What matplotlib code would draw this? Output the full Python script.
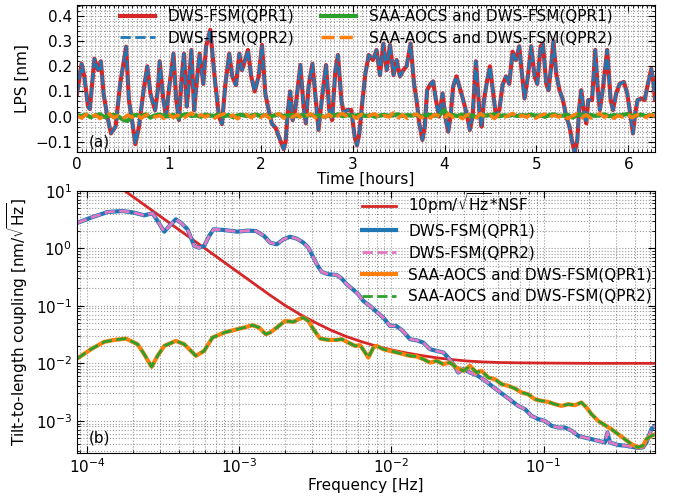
import numpy as np
import matplotlib.pyplot as plt
from matplotlib.ticker import AutoMinorLocator, LogLocator

# ---- panel (a): LPS time series ----
lps_hours = [0.00, 0.05, 0.08, 0.12, 0.14, 0.19, 0.23, 0.26, 0.29, 0.33,
             0.37, 0.42, 0.47, 0.535, 0.565, 0.605, 0.635, 0.675, 0.725, 0.765,
             0.80, 0.85, 0.88, 0.90, 0.94, 0.97, 1.00, 1.05, 1.08, 1.11,
             1.14, 1.165, 1.195, 1.215, 1.245, 1.275, 1.305, 1.335, 1.375, 1.405,
             1.45, 1.50, 1.545, 1.578, 1.615, 1.657, 1.69, 1.73, 1.767, 1.796,
             1.817, 1.861, 1.896, 1.934, 1.977, 2.013, 2.05, 2.086, 2.12, 2.165,
             2.197, 2.25, 2.27, 2.296, 2.32, 2.347, 2.375, 2.431, 2.466, 2.491,
             2.52, 2.562, 2.599, 2.628, 2.664, 2.71, 2.745, 2.776, 2.812, 2.84,
             2.877, 2.903, 2.938, 2.985, 3.022, 3.047, 3.073, 3.10, 3.138, 3.175,
             3.22, 3.26, 3.297, 3.334, 3.37, 3.406, 3.445, 3.478, 3.515, 3.551,
             3.587, 3.63, 3.668, 3.695, 3.725, 3.759, 3.785, 3.81, 3.847, 3.876,
             3.906, 3.941, 3.978, 4.014, 4.04, 4.065, 4.094, 4.13, 4.167, 4.203,
             4.239, 4.275, 4.305, 4.341, 4.378, 4.403, 4.429, 4.464, 4.494, 4.53,
             4.56, 4.596, 4.631, 4.668, 4.704, 4.74, 4.777, 4.813, 4.834, 4.87,
             4.907, 4.943, 4.98, 5.009, 5.045, 5.07, 5.107, 5.131, 5.16, 5.185,
             5.215, 5.251, 5.288, 5.324, 5.36, 5.385, 5.415, 5.445, 5.463, 5.488,
             5.513, 5.542, 5.564, 5.605, 5.64, 5.668, 5.69, 5.726, 5.77, 5.807,
             5.833, 5.868, 5.905, 5.951, 5.988, 6.025, 6.05, 6.075, 6.101, 6.14,
             6.177, 6.213, 6.25, 6.275, 6.29]
lps_dws = [0.09, 0.21, 0.16, 0.04, 0.03, 0.23, 0.185, 0.22, 0.09, 0.0,
           -0.067, -0.04, 0.13, 0.278, 0.066, -0.03, -0.11, -0.04, 0.105, 0.2,
           0.09, 0.025, 0.105, 0.22, 0.066, 0.0, 0.105, 0.25, 0.066, -0.014,
           0.16, 0.25, 0.04, 0.12, 0.265, 0.025, 0.145, 0.25, 0.13, 0.28,
           0.345, 0.15, 0.0, -0.03, 0.13, 0.25, 0.16, 0.125, 0.25, 0.185,
           0.21, 0.265, 0.16, 0.1, 0.16, 0.285, 0.09, 0.026, -0.027, -0.047,
           -0.08, -0.13, -0.10, 0.026, 0.1, -0.014, 0.026, 0.205, 0.04, -0.027,
           0.12, 0.21, 0.066, -0.053, 0.066, 0.205, 0.026, -0.014, 0.185, 0.245,
           0.066, 0.013, 0.026, 0.026, -0.08, -0.115, -0.067, 0.04, 0.17, 0.245,
           0.225, 0.265, 0.165, 0.29, 0.185, 0.285, 0.165, 0.225, 0.16, 0.185,
           0.2, 0.29, 0.13, 0.066, -0.027, -0.093, -0.04, 0.105, 0.13, 0.14,
           0.066, 0.0, 0.092, -0.014, -0.06, 0.0, 0.12, 0.16, 0.112, 0.066,
           0.013, -0.053, 0.0, 0.22, 0.026, -0.04, 0.066, 0.145, 0.2, 0.092,
           0.0, 0.026, 0.125, 0.16, 0.13, 0.258, 0.225, 0.28, 0.2, 0.072,
           0.16, 0.28, 0.16, 0.13, 0.28, 0.29, 0.13, 0.105, 0.2, 0.30,
           0.17, 0.105, 0.066, 0.0, -0.04, -0.093, -0.145, -0.093, 0.026, 0.105,
           0.026, -0.027, 0.066, 0.066, 0.265, 0.105, 0.026, 0.12, 0.265, 0.066,
           0.026, 0.092, 0.13, 0.138, 0.092, 0.0, -0.067, 0.013, 0.066, 0.072,
           0.066, 0.13, 0.19, 0.13, 0.066]

saa_qpr1 = [0.006, 0.002, 0.008, -0.003, 0.005, 0.009, -0.002, 0.004, 0.007, 0.001,
            -0.012, -0.018, 0.004, 0.006, 0.002, 0.009, -0.004, 0.005, 0.008, 0.003,
            0.001, 0.007, -0.003, 0.006, 0.010, 0.002, 0.005, -0.001, 0.008, 0.004,
            0.003, 0.009, 0.001, 0.006, -0.002, 0.005, 0.007, 0.002, 0.004, 0.008,
            0.003, 0.006, -0.001, 0.005, 0.009, 0.002, 0.004, 0.007, 0.001, 0.006,
            0.003, 0.008, 0.002, 0.005, -0.002, 0.007, 0.004, 0.009, 0.001, 0.006,
            0.003, 0.005, 0.008, 0.002, 0.006, -0.001, 0.004, 0.007, 0.003, 0.005,
            0.009, 0.002, 0.006, 0.004, 0.008, 0.001, 0.005, 0.007, 0.003, 0.006,
            0.025, 0.004, 0.006, 0.002, 0.008, 0.003, 0.005, -0.002, 0.007, 0.004,
            0.006, 0.009, 0.001, 0.005, 0.003, 0.007, 0.002, 0.006, 0.004, 0.008,
            0.003, 0.005, -0.001, 0.006, 0.009, 0.002, 0.004, 0.007, -0.004, 0.005,
            0.008, 0.002, 0.006, 0.003, 0.005, 0.009, 0.001, 0.006, 0.004, 0.007,
            0.010, 0.003, 0.005, 0.008, 0.002, 0.006, 0.004]
saa_qpr2 = [0.002, -0.006, 0.009, -0.004, 0.007, -0.008, 0.004, 0.011, -0.005, 0.003,
            -0.009, 0.006, -0.003, 0.010, -0.007, 0.005, 0.012, -0.002, 0.004, -0.008,
            0.008, -0.004, 0.006, -0.010, 0.003, 0.014, -0.005, 0.007, -0.002, 0.009,
            -0.006, 0.004, 0.011, -0.003, 0.006, -0.009, 0.002, 0.008, -0.005, 0.010,
            -0.004, 0.007, -0.007, 0.003, 0.012, -0.006, 0.005, -0.002, 0.009, -0.008,
            0.004, 0.010, -0.005, 0.006, -0.003, 0.008, -0.009, 0.005, 0.013, -0.004,
            0.002, -0.007, 0.009, -0.003, 0.006, 0.011, -0.006, 0.004, -0.002, 0.015,
            -0.005, 0.007, -0.008, 0.003, 0.010, -0.004, 0.006, -0.006, 0.008, 0.002,
            -0.007, 0.011, -0.003, 0.005, -0.009, 0.007, 0.004, -0.005, 0.012, -0.002,
            0.006, -0.008, 0.009, -0.004, 0.003, 0.013, -0.006, 0.005, -0.003, 0.008,
            -0.007, 0.004, 0.010, -0.005, 0.006, -0.002, 0.009, -0.008, 0.003, 0.011,
            -0.004, 0.007, -0.006, 0.005, 0.012, -0.003, 0.008, -0.007, 0.004, -0.002,
            0.009, -0.005, 0.006, 0.010, -0.004, 0.007, 0.002]

# ---- panel (b): amplitude spectra, read in decades (log10) ----
nsf_logf = [-3.80, -3.70, -3.60, -3.50, -3.40, -3.30, -3.20, -3.10, -3.00, -2.90,
            -2.80, -2.70, -2.60, -2.50, -2.40, -2.30, -2.20, -2.10, -2.00, -1.90,
            -1.80, -1.70, -1.60, -1.50, -1.40, -1.30, -1.20, -1.00, -0.70, -0.26]
nsf_logv = [1.09, 0.90, 0.71, 0.52, 0.33, 0.14, -0.05, -0.24, -0.43, -0.62,
            -0.81, -0.99, -1.15, -1.29, -1.42, -1.53, -1.62, -1.70, -1.765, -1.82,
            -1.865, -1.905, -1.935, -1.96, -1.975, -1.985, -1.99, -1.995, -2.0, -2.0]

dws_logf = [-4.065, -3.974, -3.864, -3.766, -3.689, -3.624, -3.569, -3.536, -3.492, -3.449,
            -3.416, -3.383, -3.339, -3.295, -3.263, -3.23, -3.197, -3.168, -3.098, -3.011,
            -2.945, -2.89, -2.836, -2.796, -2.753, -2.709, -2.665, -2.622, -2.578, -2.545,
            -2.523, -2.49, -2.457, -2.413, -2.359, -2.326, -2.293, -2.249, -2.217, -2.184,
            -2.14, -2.096, -2.053, -2.009, -1.969, -1.932, -1.9, -1.878, -1.834, -1.79,
            -1.746, -1.702, -1.659, -1.626, -1.593, -1.56, -1.527, -1.483, -1.429, -1.385,
            -1.341, -1.297, -1.254, -1.21, -1.166, -1.122, -1.079, -1.035, -0.991, -0.947,
            -0.904, -0.86, -0.816, -0.772, -0.729, -0.685, -0.641, -0.597, -0.58, -0.564,
            -0.51, -0.466, -0.422, -0.379, -0.346, -0.324, -0.291, -0.265]
dws_logv = [0.44, 0.531, 0.63, 0.647, 0.618, 0.572, 0.607, 0.473, 0.288, 0.416,
            0.502, 0.444, 0.329, 0.039, 0.01, 0.039, 0.213, 0.329, 0.317, 0.288,
            0.306, 0.30, 0.213, 0.097, 0.068, 0.155, 0.2, 0.167, 0.097, 0.01,
            -0.105, -0.279, -0.412, -0.453, -0.464, -0.528, -0.626, -0.724, -0.8, -0.916,
            -1.002, -1.106, -1.205, -1.35, -1.35, -1.419, -1.512, -1.58, -1.6, -1.64,
            -1.755, -1.784, -1.81, -1.9, -2.015, -2.16, -2.1, -2.16, -2.22, -2.3,
            -2.39, -2.48, -2.565, -2.652, -2.74, -2.796, -2.912, -2.97, -3.0, -3.086,
            -3.115, -3.115, -3.17, -3.26, -3.29, -3.317, -3.346, -3.375, -3.2, -3.375,
            -3.42, -3.43, -3.45, -3.47, -3.46, -3.375, -3.14, -3.086]

saa_logf = [-4.065, -3.974, -3.886, -3.821, -3.744, -3.667, -3.624, -3.575, -3.536, -3.492,
            -3.416, -3.361, -3.284, -3.23, -3.175, -3.098, -3.033, -2.967, -2.912, -2.869,
            -2.825, -2.796, -2.753, -2.698, -2.643, -2.61, -2.578, -2.545, -2.512, -2.468,
            -2.413, -2.359, -2.326, -2.282, -2.238, -2.205, -2.173, -2.151, -2.118, -2.096,
            -2.053, -2.009, -1.965, -1.921, -1.878, -1.834, -1.79, -1.746, -1.702, -1.659,
            -1.615, -1.571, -1.527, -1.483, -1.44, -1.407, -1.363, -1.319, -1.276, -1.232,
            -1.188, -1.144, -1.101, -1.057, -1.013, -0.969, -0.926, -0.882, -0.838, -0.794,
            -0.751, -0.718, -0.685, -0.641, -0.597, -0.554, -0.51, -0.466, -0.422, -0.379,
            -0.346, -0.324, -0.291, -0.265]
saa_logv = [-1.92, -1.755, -1.627, -1.593, -1.57, -1.668, -1.841, -2.06, -1.87, -1.697,
            -1.61, -1.668, -1.87, -1.784, -1.552, -1.465, -1.42, -1.378, -1.338, -1.378,
            -1.494, -1.465, -1.378, -1.263, -1.28, -1.234, -1.205, -1.263, -1.407, -1.57,
            -1.593, -1.593, -1.58, -1.64, -1.697, -1.685, -1.81, -1.9, -1.726, -1.697,
            -1.755, -1.784, -1.81, -1.841, -1.87, -1.88, -1.928, -1.986, -1.957, -2.015,
            -1.986, -2.073, -2.13, -2.044, -2.16, -2.13, -2.247, -2.276, -2.362, -2.39,
            -2.437, -2.507, -2.536, -2.623, -2.652, -2.67, -2.71, -2.74, -2.71, -2.727,
            -2.68, -2.767, -2.883, -3.0, -3.074, -3.144, -3.23, -3.317, -3.404, -3.46,
            -3.43, -3.317, -3.26, -3.23]

plt.rcParams['font.size'] = 11
fig = plt.figure(figsize=(6.83, 5.0), dpi=100)

# ---------------- (a) ----------------
ax1 = fig.add_axes([0.1127, 0.696, 0.8463, 0.294])
t_saa = np.linspace(0, lps_hours[-1], len(saa_qpr1))
ax1.plot(lps_hours, lps_dws, color='tab:red', lw=3, label='DWS-FSM(QPR1)')
ax1.plot(lps_hours, lps_dws, color='tab:blue', lw=2, ls='--', label='DWS-FSM(QPR2)')
ax1.plot(t_saa, saa_qpr1, color='tab:green', lw=3, label='SAA-AOCS and DWS-FSM(QPR1)')
ax1.plot(t_saa, saa_qpr2, color='tab:orange', lw=2.5, ls='--', label='SAA-AOCS and DWS-FSM(QPR2)')
ax1.set_xlim(0, 6.29)
ax1.set_ylim(-0.141, 0.444)
ax1.set_yticks([-0.1, 0.0, 0.1, 0.2, 0.3, 0.4])
ax1.xaxis.set_minor_locator(AutoMinorLocator(20))
ax1.yaxis.set_minor_locator(AutoMinorLocator(5))
ax1.set_xlabel('Time [hours]', labelpad=0)
ax1.set_ylabel('LPS [nm]')
ax1.text(0.02, 0.07, '(a)', transform=ax1.transAxes, va='center')
ax1.legend(loc='upper center', ncol=2, frameon=False, handlelength=2.3,
           columnspacing=1.8, borderaxespad=0, labelspacing=0.4,
           bbox_to_anchor=(0.5, 1.015))

# ---------------- (b) ----------------
ax2 = fig.add_axes([0.1127, 0.0946, 0.8463, 0.524])
ax2.loglog(10 ** np.array(nsf_logf), 10 ** np.array(nsf_logv), color='tab:red', lw=2,
           label=r'10pm/$\sqrt{\rm Hz}$*NSF')
ax2.loglog(10 ** np.array(dws_logf), 10 ** np.array(dws_logv), color='tab:blue', lw=3,
           label='DWS-FSM(QPR1)')
ax2.loglog(10 ** np.array(dws_logf), 10 ** np.array(dws_logv), color='tab:pink', lw=2, ls='--',
           label='DWS-FSM(QPR2)')
ax2.loglog(10 ** np.array(saa_logf), 10 ** np.array(saa_logv), color='tab:orange', lw=3,
           label='SAA-AOCS and DWS-FSM(QPR1)')
ax2.loglog(10 ** np.array(saa_logf), 10 ** np.array(saa_logv), color='tab:green', lw=2, ls='--',
           label='SAA-AOCS and DWS-FSM(QPR2)')
ax2.set_xlim(8.6e-5, 0.54)
ax2.set_ylim(2.8e-4, 10)
ax2.yaxis.set_major_locator(LogLocator(base=10, numticks=10))
ax2.yaxis.set_minor_locator(LogLocator(base=10, subs=np.arange(2, 10), numticks=10))
ax2.set_xlabel('Frequency [Hz]', labelpad=1)
ax2.set_ylabel(r'Tilt-to-length coupling [nm/$\sqrt{\rm Hz}$]')
ax2.text(0.02, 0.057, '(b)', transform=ax2.transAxes, va='center')
ax2.legend(loc='upper right', frameon=False, handlelength=2.2, borderaxespad=0,
           labelspacing=0.45, bbox_to_anchor=(1.005, 1.02))

for ax in (ax1, ax2):
    ax.tick_params(which='both', direction='in', top=True, right=True)
    ax.tick_params(which='major', length=5)
    ax.tick_params(which='minor', length=2.5)
    ax.grid(which='both', ls=':', color='gray', lw=0.8, alpha=0.8)

plt.savefig('out.png', dpi=100)
